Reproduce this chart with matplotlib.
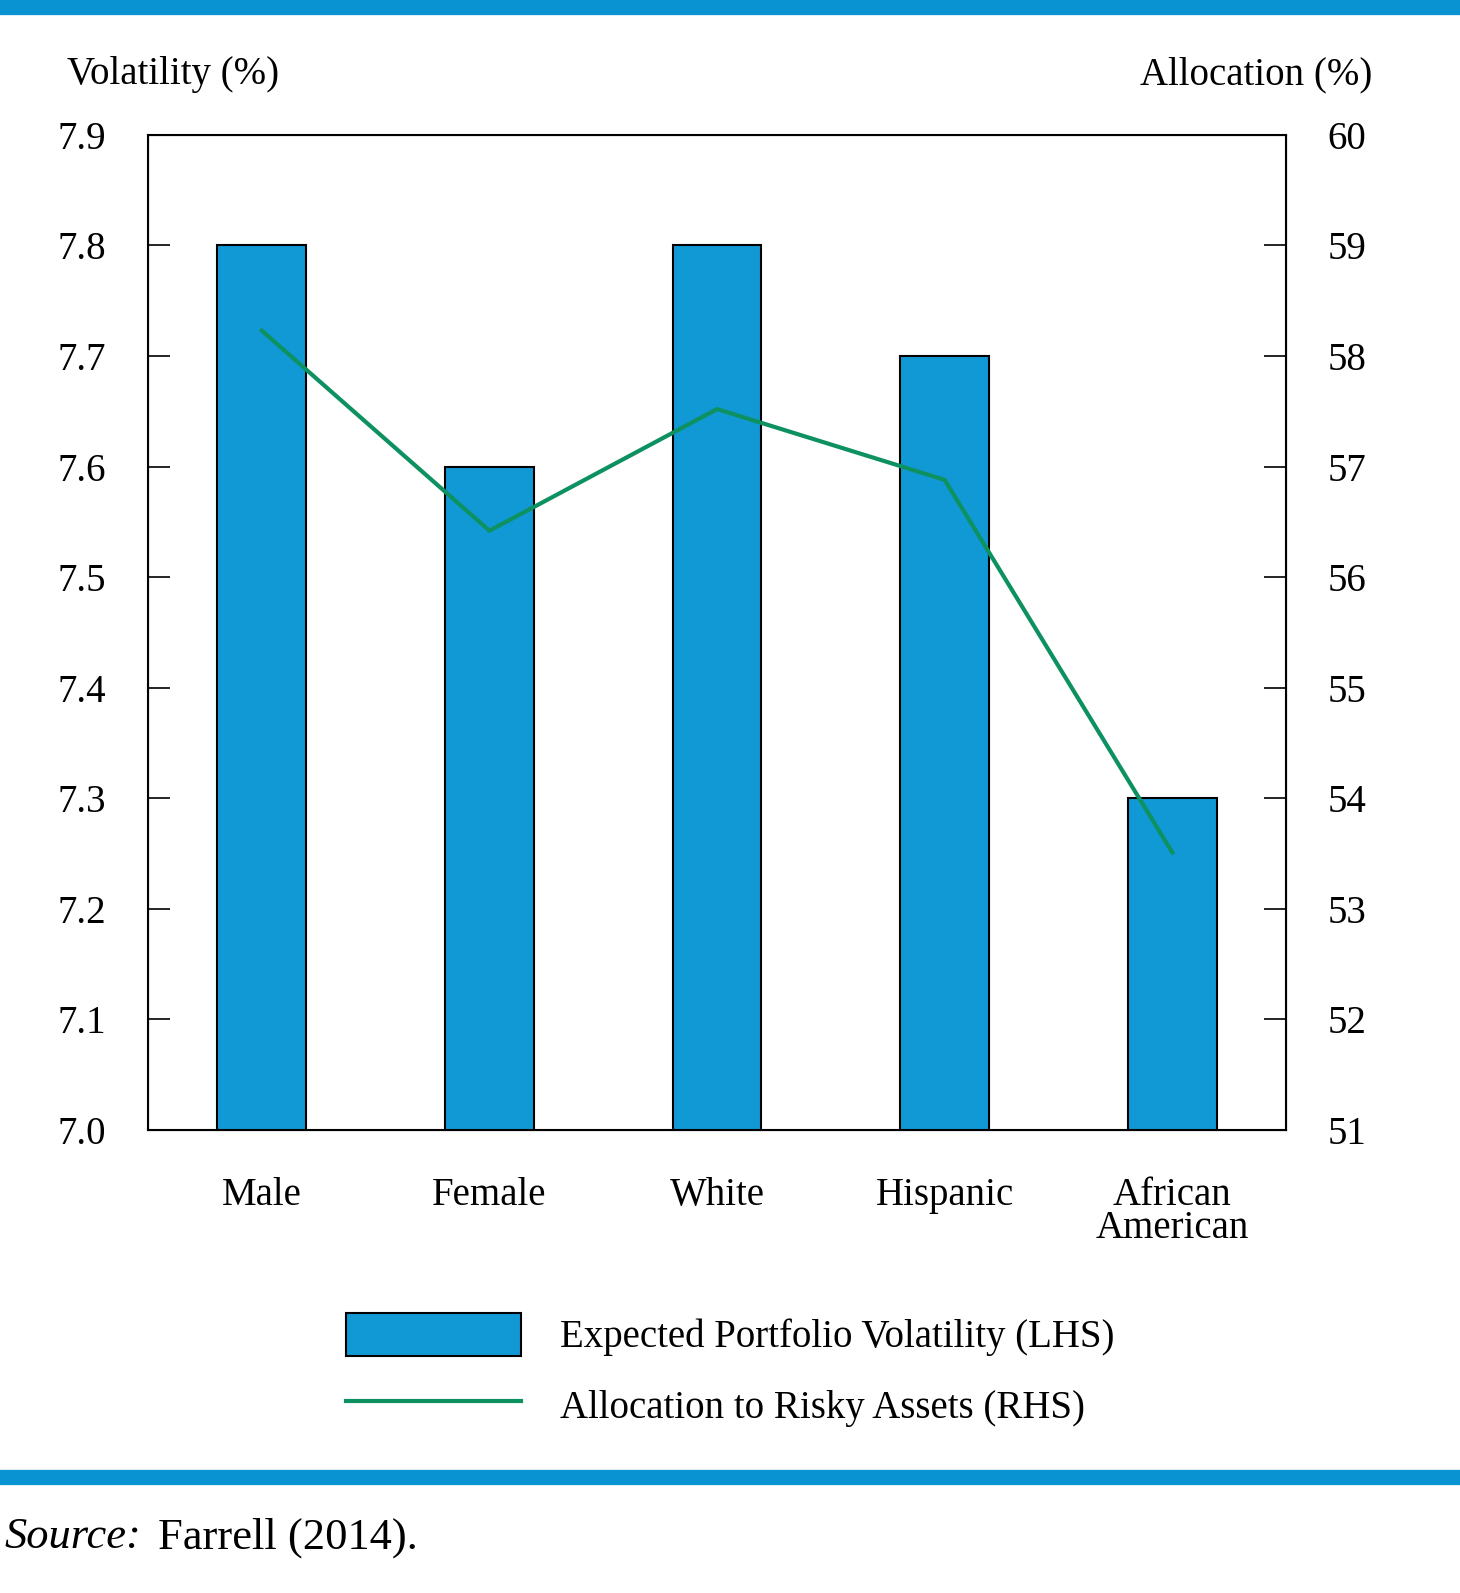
import matplotlib.pyplot as plt
from matplotlib.lines import Line2D
from matplotlib.patches import Patch

categories = ["Male", "Female", "White", "Hispanic", "African\nAmerican"]
volatility = [7.8, 7.6, 7.8, 7.7, 7.3]
allocation = [58.23, 56.42, 57.52, 56.88, 53.51]

blue = "#1199D5"
green = "#0E9160"
plt.rcParams["font.family"] = ["Liberation Serif", "DejaVu Serif"]
fs = 28

fig = plt.figure(figsize=(14.6, 15.93), dpi=100)
ax = fig.add_axes([0.1014, 0.2907, 0.7795, 0.6246])
x = list(range(len(categories)))
ax.bar(x, volatility, width=0.39, color=blue, edgecolor="black", linewidth=1.5)
ax.set_xlim(-0.5, 4.5)
ax.set_ylim(7.0, 7.9)
ax.set_yticks([7.0 + 0.1 * i for i in range(10)])
ax.set_yticklabels([f"{7.0 + 0.1 * i:.1f}" for i in range(10)])
ax.set_xticks(x)
ax.set_xticklabels(categories, linespacing=0.85)
ax.tick_params(axis="y", direction="in", length=16, width=1.2, labelsize=fs, pad=30)
ax.tick_params(axis="x", length=0, labelsize=fs, pad=34)
for s in ax.spines.values():
    s.set_linewidth(1.5)

ax2 = ax.twinx()
ax2.plot(x, allocation, color=green, linewidth=3)
ax2.set_ylim(51, 60)
ax2.set_yticks(range(51, 61))
ax2.tick_params(axis="y", direction="in", length=16, width=1.2, labelsize=fs, pad=30)

fig.text(0.046, 0.947, "Volatility (%)", fontsize=fs)
fig.text(0.94, 0.947, "Allocation (%)", fontsize=fs, ha="right")

handles = [Patch(facecolor=blue, edgecolor="black", linewidth=1.5),
           Line2D([], [], color=green, linewidth=3)]
fig.legend(handles, ["Expected Portfolio Volatility (LHS)", "Allocation to Risky Assets (RHS)"],
           loc="center", bbox_to_anchor=(0.5, 0.14), frameon=False, fontsize=fs,
           handlelength=4.5, handleheight=1.3, labelspacing=0.7, handletextpad=1.0)

# blue rules top and bottom
fig.add_artist(Line2D([0.003, 0.997], [0.9955, 0.9955], color="#0A93D3", linewidth=11))
fig.add_artist(Line2D([0.003, 0.997], [0.073, 0.073], color="#0A93D3", linewidth=11))
fig.text(0.003, 0.028, "Source:", fontsize=fs + 4, style="italic")
fig.text(0.108, 0.028, "Farrell (2014).", fontsize=fs + 4)

fig.savefig("out.png")
